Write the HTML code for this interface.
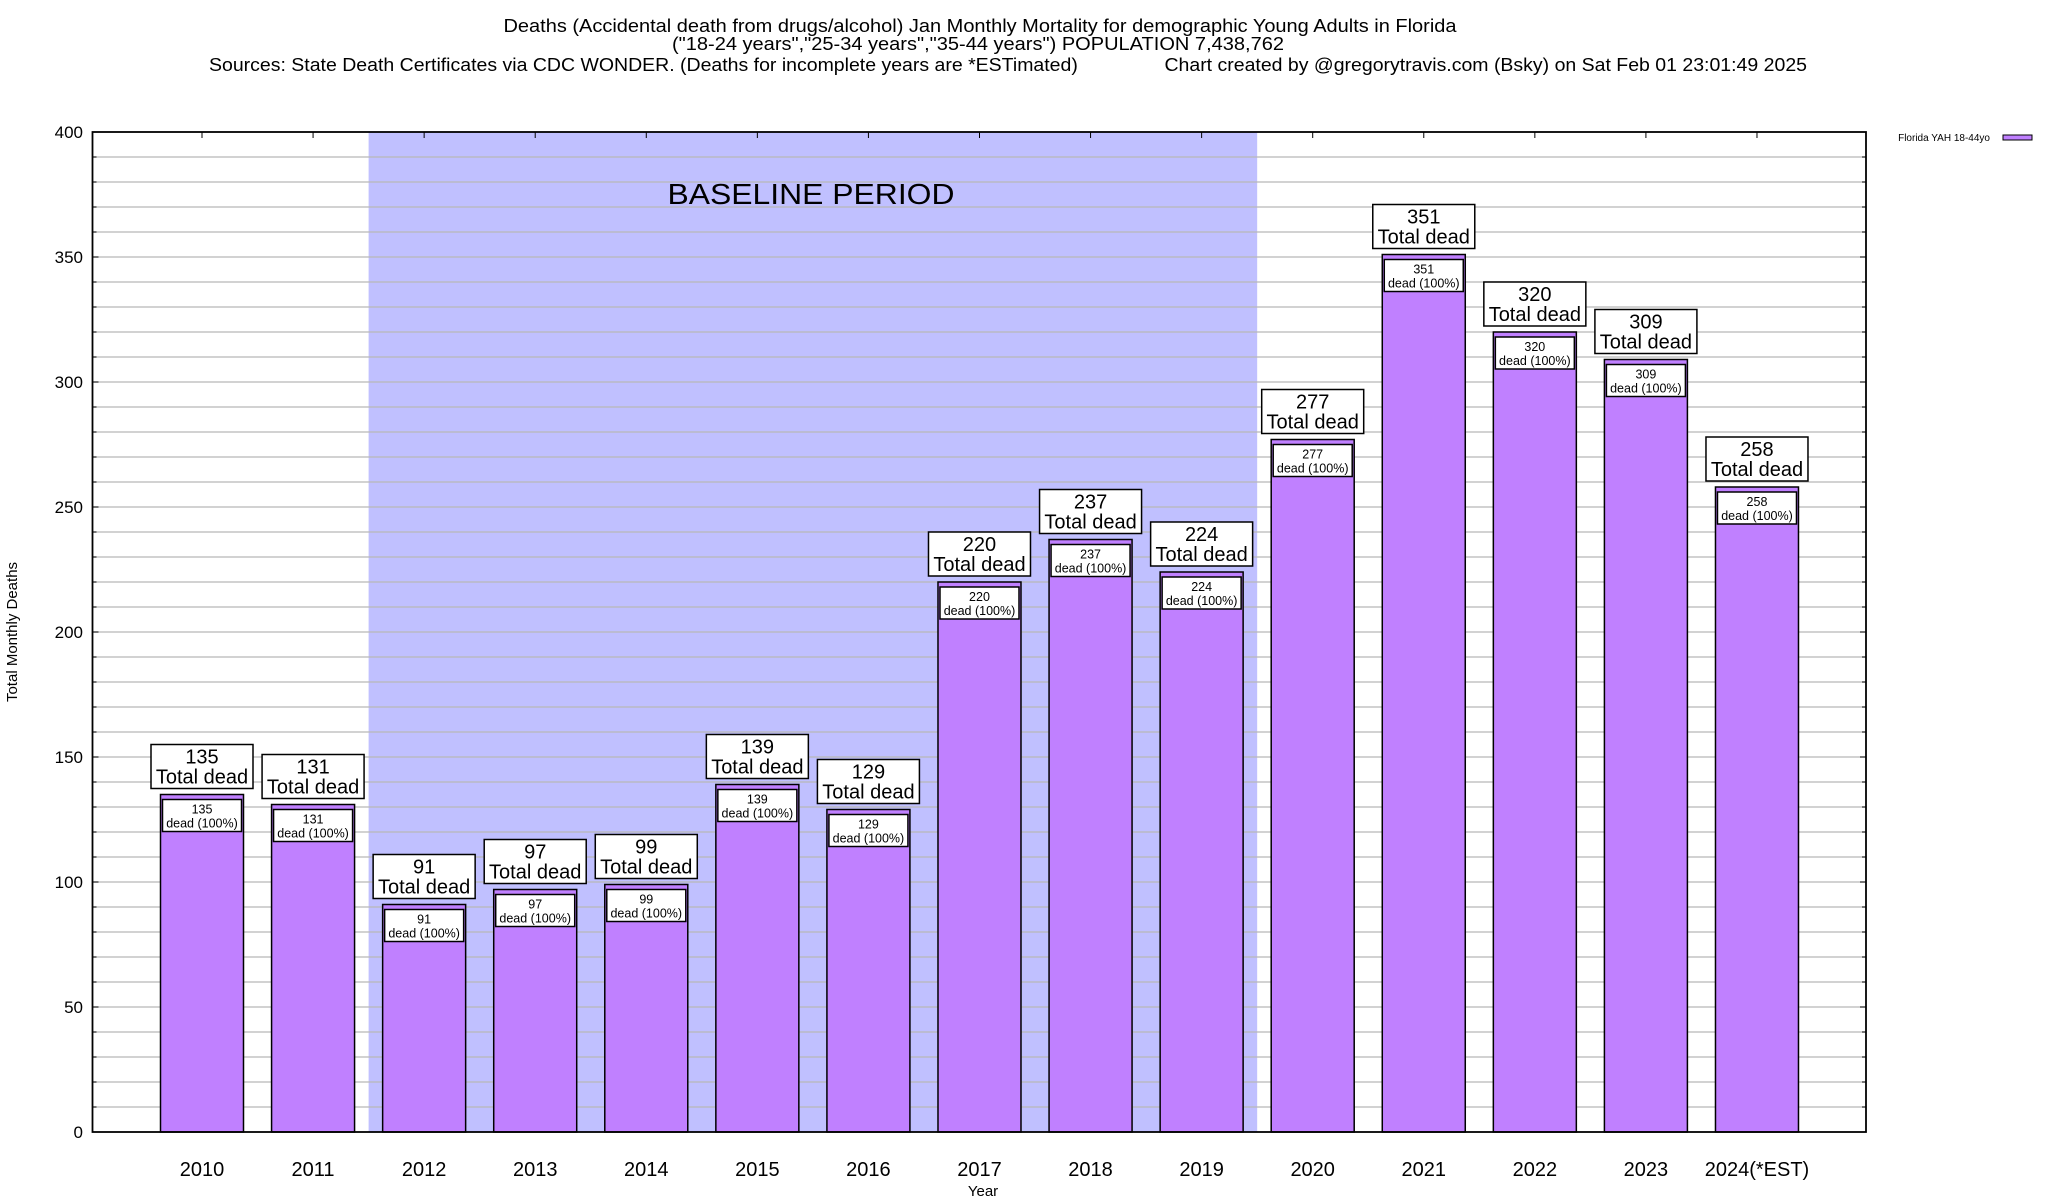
<!DOCTYPE html>
<html><head><meta charset="utf-8"><style>
html,body{margin:0;padding:0;background:#fff}
svg{display:block;font-family:"Liberation Sans",Arial,sans-serif}
</style></head><body>
<svg id="chart" width="2048" height="1200" viewBox="0 0 2048 1200">
<g>
<text x="980" y="32" font-size="18.5" text-anchor="middle" textLength="953" lengthAdjust="spacingAndGlyphs">Deaths (Accidental death from drugs/alcohol) Jan Monthly Mortality for demographic Young Adults in Florida</text>
<text x="978" y="50" font-size="18.5" text-anchor="middle" textLength="612" lengthAdjust="spacingAndGlyphs">("18-24 years","25-34 years","35-44 years") POPULATION 7,438,762</text>
<text x="1008" y="71" font-size="18.5" text-anchor="middle" textLength="1598" lengthAdjust="spacingAndGlyphs" xml:space="preserve">Sources: State Death Certificates via CDC WONDER. (Deaths for incomplete years are *ESTimated)                Chart created by @gregorytravis.com (Bsky) on Sat Feb 01 23:01:49 2025</text>
</g>
<g id="plot"></g>
<text x="17" y="632" font-size="15" text-anchor="middle" transform="rotate(-90 17 632)">Total Monthly Deaths</text>
<text x="983" y="1196" font-size="15" text-anchor="middle">Year</text>
<g>
<text x="1990" y="141" font-size="10" text-anchor="end">Florida YAH 18-44yo</text>
<rect x="2003" y="135" width="29" height="5" fill="#c080ff" stroke="#000" stroke-width="1"/>
</g>
</svg>
<script>
const categories = ["2010","2011","2012","2013","2014","2015","2016","2017","2018","2019","2020","2021","2022","2023","2024(*EST)"];
const deaths = [135,131,91,97,99,139,129,220,237,224,277,351,320,309,258];
const yTicks = [0,50,100,150,200,250,300,350,400];
const baselineStart = 2, baselineEnd = 9;

const NS = "http://www.w3.org/2000/svg";
const L = 92.5, R = 1866, T = 132, B = 1132, YMAX = 400;
const step = 111.07, c0 = 202;
const y = v => B - (v / YMAX) * (B - T);
const x = i => c0 + i * step;
const plot = document.getElementById('plot');
function mk(tag, attrs, parent) {
  const e = document.createElementNS(NS, tag);
  for (const k in attrs) e.setAttribute(k, attrs[k]);
  (parent || plot).appendChild(e);
  return e;
}
const sh = mk('rect', {x: x(baselineStart) - step/2, y: T, width: (baselineEnd - baselineStart + 1) * step, height: B - T, fill: '#c0c0ff'});


for (let v = 10; v < YMAX; v += 10) {
  mk('line', {x1: L, x2: R, y1: y(v), y2: y(v), stroke: '#b8b8b8', 'stroke-width': 1.2});
  const len = (v % 50 === 0) ? 6 : 4;
  mk('line', {x1: L, x2: L + len, y1: y(v), y2: y(v), stroke: '#000'});
  mk('line', {x1: R, x2: R - len, y1: y(v), y2: y(v), stroke: '#000'});
}
const bt = mk('text', {x: 811, y: 204, 'font-size': 29, 'text-anchor': 'middle', textLength: 287, lengthAdjust: 'spacingAndGlyphs'});
bt.textContent = 'BASELINE PERIOD';


yTicks.forEach(v => {
  const t = mk('text', {x: 83, y: y(v) + 6, 'font-size': 17, 'text-anchor': 'end'});
  t.textContent = v;
  
  
});
categories.forEach((c, i) => {
  const v = deaths[i], cx = x(i), w = 83, top = y(v);
  const g = mk('g', {});
  
  
  mk('rect', {x: cx - w/2, y: top, width: w, height: B - top, fill: '#c080ff', stroke: '#000', 'stroke-width': 1.5}, g);
  mk('rect', {x: cx - w/2 + 2, y: top + 5, width: w - 4, height: 32, fill: '#fff', stroke: '#000', 'stroke-width': 1.5}, g);
  const t1 = mk('text', {x: cx, y: top + 19, 'font-size': 12.5, 'text-anchor': 'middle'}, g); t1.textContent = v;
  const t2 = mk('text', {x: cx, y: top + 33, 'font-size': 12.5, 'text-anchor': 'middle'}, g); t2.textContent = 'dead (100%)';
  const lb = mk('g', {});
  
  
  mk('rect', {x: cx - 51, y: top - 50, width: 102, height: 44, fill: '#fff', stroke: '#000', 'stroke-width': 1.5}, lb);
  const t3 = mk('text', {x: cx, y: top - 31, 'font-size': 20, 'text-anchor': 'middle'}, lb); t3.textContent = v;
  const t4 = mk('text', {x: cx, y: top - 11, 'font-size': 20, 'text-anchor': 'middle'}, lb); t4.textContent = 'Total dead';
  mk('line', {x1: cx, x2: cx, y1: T, y2: T + 6, stroke: '#000'});
  const xl = mk('text', {x: cx, y: 1176, 'font-size': 20, 'text-anchor': 'middle'});
  xl.textContent = c;
  
  
});
const frame = mk('rect', {x: L, y: T, width: R - L, height: B - T, fill: 'none', stroke: '#000', 'stroke-width': 1.8});


</script>
</body></html>
